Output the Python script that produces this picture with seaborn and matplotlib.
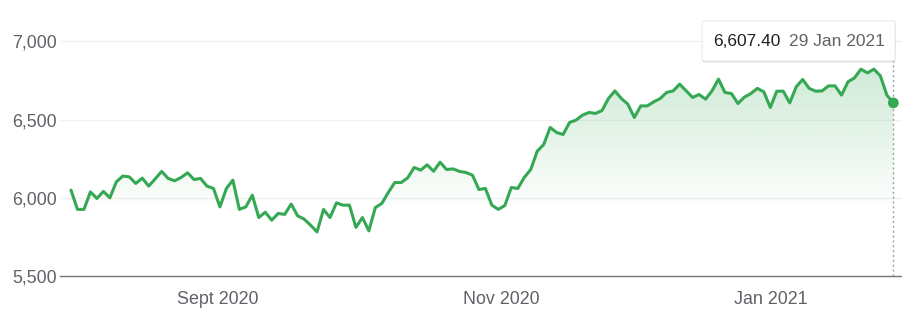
import numpy as np
import pandas as pd
import matplotlib
matplotlib.use("Agg")
import matplotlib.pyplot as plt
import seaborn as sns
from matplotlib.patches import FancyBboxPatch, Polygon

# ---------------- data ----------------
values = [
    6049, 5926, 5926, 6038, 5996, 6041, 6000, 6102, 6139, 6134,
    6092, 6126, 6075, 6121, 6169, 6124, 6109, 6130, 6160, 6117,
    6124, 6075, 6060, 5942, 6060, 6113, 5926, 5942, 6017, 5874,
    5908, 5857, 5900, 5894, 5960, 5885, 5864, 5825, 5782, 5926,
    5874, 5968, 5953, 5953, 5811, 5874, 5789, 5938, 5964, 6034,
    6098, 6098, 6128, 6194, 6177, 6211, 6170, 6228, 6181, 6185,
    6169, 6162, 6145, 6053, 6060, 5953, 5926, 5951, 6066, 6060,
    6130, 6181, 6298, 6341, 6450, 6418, 6405, 6482, 6497, 6529,
    6546, 6540, 6558, 6635, 6684, 6635, 6599, 6514, 6588, 6588,
    6614, 6635, 6674, 6684, 6727, 6684, 6642, 6661, 6631, 6684,
    6759, 6674, 6667, 6603, 6644, 6667, 6700, 6678, 6578, 6682,
    6682, 6607, 6710, 6757, 6700, 6682, 6684, 6716, 6716, 6657,
    6742, 6767, 6823, 6799, 6823, 6780, 6657, 6607.40,
]
month_tick_pos = [22.7, 66.5, 108.1]
month_tick_labels = ["Sept 2020", "Nov 2020", "Jan 2021"]
y_ticks = [5500, 6000, 6500, 7000]
y_tick_labels = ["5,500", "6,000", "6,500", "7,000"]
last_value_label = "6,607.40"
last_date_label = "29 Jan 2021"

df = pd.DataFrame({"idx": np.arange(len(values)), "value": values})

# ---------------- style ----------------
sns.set_style("white")
plt.rcParams["font.family"] = ["Liberation Sans", "DejaVu Sans"]

GREEN = "#34a853"
GRAY_TXT = "#5f6368"
AXIS_GRAY = "#70757a"
GRID = "#f1f1f1"
FS = 12.9

fig = plt.figure(figsize=(9.02, 3.28), dpi=100)
ax = fig.add_axes([60 / 902, 52 / 328, 842 / 902, 265.8 / 328])

Y0, Y1 = 5500, 7200
X0, X1 = -1.7, 128.34
ax.set_xlim(X0, X1)
ax.set_ylim(Y0, Y1)

# grid lines
for yv in y_ticks[1:]:
    ax.axhline(yv, color=GRID, lw=1.0, zorder=0)

# gradient fill under line
n = len(values)
yy = np.linspace(Y0, Y1, 256)
alpha = np.clip((yy - 5900) / (6850 - 5900), 0, 1) * 0.24
rgba = np.zeros((256, 1, 4))
rgb = matplotlib.colors.to_rgb(GREEN)
rgba[..., 0] = rgb[0]
rgba[..., 1] = rgb[1]
rgba[..., 2] = rgb[2]
rgba[..., 3] = alpha.reshape(-1, 1)
im = ax.imshow(rgba, extent=[0, n - 1, Y0, Y1], origin="lower",
               aspect="auto", zorder=1, interpolation="bilinear")
poly_xy = np.column_stack([np.r_[0, df["idx"], n - 1], np.r_[Y0, df["value"], Y0]])
clip = Polygon(poly_xy, closed=True, facecolor="none", edgecolor="none")
ax.add_patch(clip)
im.set_clip_path(clip)

# line
sns.lineplot(data=df, x="idx", y="value", ax=ax, color=GREEN, lw=2.2,
             zorder=3, legend=False)
ax.set_xlim(X0, X1)
ax.set_ylim(Y0, Y1)

# end dot
ax.scatter([n - 1], [values[-1]], s=60, color=GREEN, zorder=4, edgecolor="none")

# dotted vertical line up to tooltip
top_frac = (328 - 61 - 52) / 265.8
ax.axvline(n - 1, ymin=0, ymax=top_frac, color="#9aa0a6", lw=1.0,
           linestyle=(0, (1.5, 2)), zorder=2)

# axes styling
for s in ["top", "right", "left"]:
    ax.spines[s].set_visible(False)
ax.spines["bottom"].set_color(AXIS_GRAY)
ax.spines["bottom"].set_linewidth(1.0)

ax.set_yticks(y_ticks)
ax.set_yticklabels(y_tick_labels)
ax.set_xticks(month_tick_pos)
ax.set_xticklabels(month_tick_labels)
ax.tick_params(axis="y", length=0, pad=2, labelsize=FS, labelcolor=GRAY_TXT)
ax.tick_params(axis="x", length=7, width=1, color=AXIS_GRAY, pad=4,
               labelsize=FS, labelcolor=GRAY_TXT, direction="out")
ax.set_xlabel("")
ax.set_ylabel("")

# tooltip box
bx, by, bw, bh = 702 / 902, (328 - 61) / 328, 193 / 902, 40 / 328
shadow = FancyBboxPatch((bx + 0.5 / 902, by - 1.5 / 328), bw, bh,
                        boxstyle="round,pad=0,rounding_size=0.004",
                        transform=fig.transFigure, facecolor="#000000",
                        alpha=0.12, edgecolor="none", zorder=9)
box = FancyBboxPatch((bx, by), bw, bh,
                     boxstyle="round,pad=0,rounding_size=0.004",
                     transform=fig.transFigure, facecolor="white",
                     edgecolor="#e3e3e3", lw=0.6, zorder=10)
fig.patches.extend([shadow, box])
fig.text(713 / 902, (328 - 41) / 328, last_value_label, fontsize=12.5,
         color="#202124", va="center", ha="left", zorder=11)
fig.text(789 / 902, (328 - 41) / 328, last_date_label, fontsize=12.5,
         color=GRAY_TXT, va="center", ha="left", zorder=11)

fig.savefig("out.png", dpi=100, facecolor="white")
